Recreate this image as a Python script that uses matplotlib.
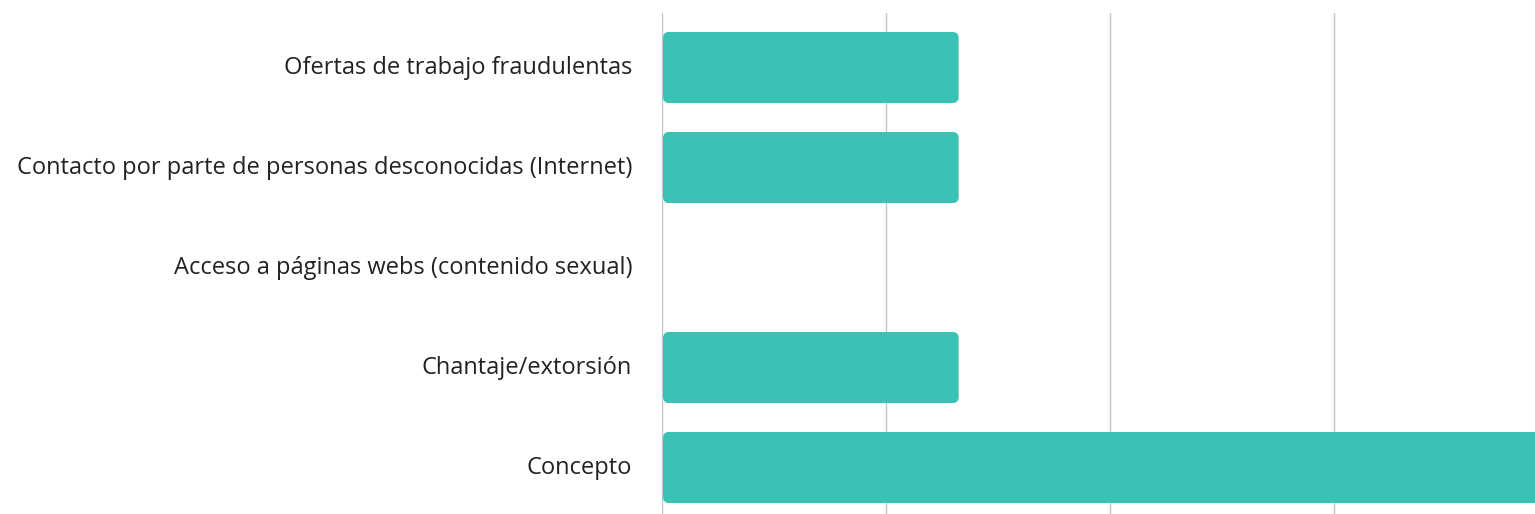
import matplotlib.pyplot as plt
import matplotlib.transforms as mtransforms
from matplotlib.patches import FancyBboxPatch

categories = [
    "Ofertas de trabajo fraudulentas",
    "Contacto por parte de personas desconocidas (Internet)",
    "Acceso a páginas webs (contenido sexual)",
    "Chantaje/extorsión",
    "Concepto",
]
values = [1, 1, 0, 1, 3]
grid_ticks = [0, 0.75, 1.5, 2.25]

bar_color = "#3cc1b5"

plt.rcParams["font.family"] = ["Open Sans", "DejaVu Sans"]

fig = plt.figure(figsize=(15.35, 5.14), dpi=100)
ax = fig.add_axes([662 / 1535, 0, 873 / 1535, 501 / 514])

positions = list(range(len(categories)))
bars = ax.barh(positions, values, height=0.71, color=bar_color)

ax.set_xlim(0, 2.923)
ax.set_ylim(4.465, -0.545)
ax.set_xticks(grid_ticks)
ax.set_xticklabels([])
ax.tick_params(axis="x", length=0)
ax.tick_params(axis="y", length=0, pad=21.6, labelsize=17, labelcolor="#222222")
ax.set_yticks(positions)
ax.set_yticklabels(categories)
ax.grid(axis="x", color="#c4c4c4", linewidth=1)
ax.set_axisbelow(True)
for s in ax.spines.values():
    s.set_visible(False)

# labels sit a touch above the bar centres
shift = mtransforms.ScaledTranslation(0, 2 / 100, fig.dpi_scale_trans)
for lab in ax.get_yticklabels():
    lab.set_transform(lab.get_transform() + shift)

# swap the square bars for rounded ones
fig.canvas.draw()
px_x = ax.transData.transform((1, 0))[0] - ax.transData.transform((0, 0))[0]
px_y = abs(ax.transData.transform((0, 1))[1] - ax.transData.transform((0, 0))[1])
radius = 6
for b in bars:
    x, y, w, h = b.get_x(), b.get_y(), b.get_width(), b.get_height()
    b.set_visible(False)
    if w <= 0:
        continue
    x = x + 1 / px_x
    w = w - 3 / px_x
    p = FancyBboxPatch((x, y), w, h,
                       boxstyle="round,pad=0,rounding_size=%f" % (radius / px_x),
                       mutation_aspect=px_x / px_y,
                       facecolor=bar_color, edgecolor="none")
    ax.add_patch(p)

fig.savefig("out.png", dpi=100)
